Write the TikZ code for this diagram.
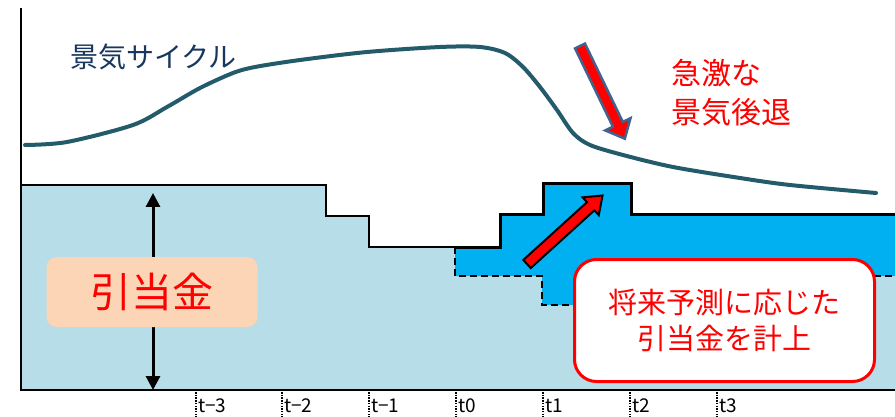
\documentclass[tikz,border=0pt]{standalone}
\usepackage{fontspec}
\setmainfont{Noto Sans CJK JP}
\usetikzlibrary{arrows.meta}
\definecolor{lblue}{HTML}{B7DDE8}
\definecolor{dblue}{HTML}{00B0F0}
\definecolor{peach}{HTML}{FBD5B5}
\definecolor{teal}{HTML}{235B6B}
\definecolor{navy}{HTML}{17375E}
\definecolor{redtxt}{HTML}{FF0000}
\definecolor{arrowedge}{HTML}{41638F}
\tikzset{
  axisline/.style={line width=2pt, black},
  stepline/.style={line width=1.8pt, black},
  boldstep/.style={line width=3pt, black, line join=miter},
  dashstep/.style={line width=2.5pt, black, dash pattern=on 7pt off 4pt},
  tickline/.style={line width=1.5pt, black, dash pattern=on 1.5pt off 1.2pt},
  ticklabel/.style={anchor=west, inner sep=0pt, font=\fontsize{19}{21}\selectfont},
  peachbox/.style={fill=peach, rounded corners=10pt, minimum width=211pt, minimum height=70pt, text=redtxt, font=\fontsize{41}{45}\selectfont},
  notebox/.style={fill=white, draw=redtxt, line width=3pt, rounded corners=22pt, minimum width=300pt, minimum height=122pt, text=redtxt, align=center, font=\fontsize{29}{36}\selectfont},
  fatred/.style={fill=redtxt, draw=black, line width=2pt, line join=miter},
  fatdown/.style={fill=redtxt, draw=arrowedge, line width=2.5pt, line join=miter},
}
\begin{document}
\begin{tikzpicture}[x=1pt,y=-1pt]
\useasboundingbox (0,0) rectangle (895,417);
% light blue provision area
\fill[lblue] (21,185) -- (326,185) -- (326,216) -- (369,216) -- (369,247) -- (895,247) -- (895,390) -- (21,390) -- cycle;
\draw[stepline] (21,185) -- (326,185) -- (326,216) -- (369,216) -- (369,247) -- (455,247);
% dark blue forecast area
\fill[dblue] (455,247) -- (500,247) -- (500,215) -- (543,215) -- (543,184) -- (631,184) -- (631,215) -- (895,215) -- (895,276) -- (630,276) -- (630,305) -- (542,305) -- (542,276) -- (455,276) -- cycle;
\draw[boldstep] (455,247) -- (500,247) -- (500,215) -- (543,215) -- (543,184) -- (631,184) -- (631,215) -- (895,215);
\draw[dashstep] (455,247) -- (455,276) -- (542,276) -- (542,305) -- (630,305) -- (630,276) -- (895,276);
% axes
\draw[axisline] (21,8) -- (21,390) -- (895,390);
% ticks
\foreach \x/\t in {196/t−3,282/t−2,369/t−1,456/t0,543/t1,630/t2,717/t3}{
  \draw[tickline] (\x,392) -- (\x,417);
  \node[ticklabel] at (\x+2,406) {\t};
}
% business cycle curve
\draw[teal, line width=4pt, line cap=round] plot[smooth, tension=0.5] coordinates {
 (25,145) (67,142) (133,125) (167,107) (200,88) (233,73) (255,67) (300,60) (367,52) (440,47) (480,47) (505,53) (523,67) (540,87) (557,110) (573,133) (590,145) (623,155) (673,167) (740,178) (790,185) (876,193)};
\node[anchor=west, inner sep=0pt, text=navy, font=\fontsize{28}{32}\selectfont] (cycle) at (70,57) {景気サイクル};
\node[anchor=west, inner sep=0pt, text=redtxt, align=left, font=\fontsize{30}{39}\selectfont] (reces) at (671,93) {急激な\\景気後退};
% downward fat arrow
\begin{scope}[shift={(580,46)}, rotate=-64.2]
  \draw[fatdown] (0,-5.5) -- (87,-5.5) -- (87,-14) -- (103,0) -- (87,14) -- (87,5.5) -- (0,5.5) -- cycle;
\end{scope}
% double arrow
\coordinate (atop) at (153,193);
\coordinate (abot) at (153,390);
\draw[line width=3pt, {Triangle[width=14pt,length=14pt]}-{Triangle[width=14pt,length=14pt]}] (atop) -- (abot);
\node[peachbox] (lbl) at (152,292) {引当金};
% red up-right fat arrow
\begin{scope}[shift={(527,264)}, rotate=42.2]
  \draw[fatred] (0,-5.5) -- (86,-5.5) -- (86,-12) -- (102,0) -- (86,12) -- (86,5.5) -- (0,5.5) -- cycle;
\end{scope}
% note box
\node[notebox] (note) at (724.5,320.5) {将来予測に応じた\\引当金を計上};
\end{tikzpicture}
\end{document}
